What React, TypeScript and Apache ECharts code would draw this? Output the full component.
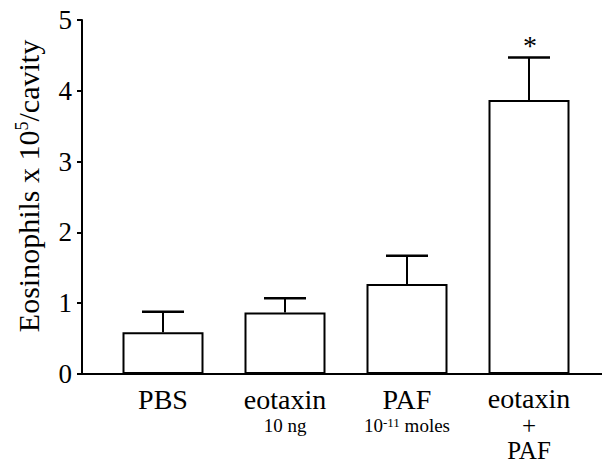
import React, { useEffect, useRef } from "react";
import * as echarts from "echarts";

const categories = ["PBS", "eotaxin", "PAF", "eotaxin + PAF"];
const means = [0.59, 0.87, 1.27, 3.87];
const errorTops = [0.88, 1.07, 1.67, 4.47];
const significance = ["", "", "", "*"];
const categoryLabels = [
  "{a|PBS}",
  "{a|eotaxin}\n{b|10 ng}",
  "{a|PAF}\n{b|10}{sup|-11}{b| moles}",
  "{d|eotaxin}\n{c|+}\n{c|PAF}",
];
const yMin = 0;
const yMax = 5;
const yInterval = 1;

const FONT = "Liberation Serif";

export default function App() {
  const ref = useRef<HTMLDivElement>(null);
  useEffect(() => {
    if (!ref.current) return;
    const chart = echarts.init(ref.current, undefined, { renderer: "svg" });
    const option: any = {
      animation: false,
      backgroundColor: "#fff",
      textStyle: { fontFamily: FONT },
      grid: {
        left: 102,
        right: 12,
        top: 20,
        bottom: 90,
        containLabel: false,
        outerBoundsMode: "none",
      },
      xAxis: {
        type: "category",
        data: categories,
        axisLine: { show: false },
        axisTick: { show: false },
        axisLabel: {
          interval: 0,
          margin: 9,
          color: "#000",
          fontFamily: FONT,
          formatter: (_v: string, i: number) => categoryLabels[i],
          rich: {
            a: { fontFamily: FONT, fontSize: 28, lineHeight: 33, color: "#000" },
            b: { fontFamily: FONT, fontSize: 19, lineHeight: 19, color: "#000" },
            sup: { fontFamily: FONT, fontSize: 13, lineHeight: 13, verticalAlign: "top", color: "#000" },
            d: { fontFamily: FONT, fontSize: 28, lineHeight: 30, color: "#000" },
            c: { fontFamily: FONT, fontSize: 25, lineHeight: 25, color: "#000" },
          },
        },
      },
      yAxis: {
        type: "value",
        min: yMin,
        max: yMax,
        interval: yInterval,
        offset: 20,
        axisLine: { show: true, lineStyle: { color: "#000", width: 2 } },
        axisTick: { show: true, inside: false, length: 5, lineStyle: { color: "#000", width: 2 } },
        splitLine: { show: false },
        axisLabel: { color: "#000", fontFamily: FONT, fontSize: 27, margin: 10 },
      },
      graphic: [
        {
          type: "line",
          z: 0,
          shape: { x1: 82, y1: 374, x2: 602, y2: 374 },
          style: { stroke: "#000", lineWidth: 2 },
        },
        {
          type: "text",
          x: 28,
          y: 186,
          rotation: Math.PI / 2,
          style: {
            text: "{a|Eosinophils x 10}{s|5}{a|/cavity}",
            align: "center",
            verticalAlign: "middle",
            fontFamily: FONT,
            rich: {
              a: { fontFamily: FONT, fontSize: 30, lineHeight: 30, fill: "#000" },
              s: { fontFamily: FONT, fontSize: 18, lineHeight: 30, verticalAlign: "top", fill: "#000" },
            },
          },
        },
      ],
      series: [
        {
          type: "bar",
          data: means,
          barWidth: 81,
          itemStyle: { color: "#fff", borderColor: "#000", borderWidth: 2 },
          z: 2,
        },
        {
          type: "custom",
          z: 3,
          data: categories.map((_c, i) => [i, means[i], errorTops[i]]),
          renderItem: (params: any, api: any) => {
            const idx = api.value(0);
            const base = api.coord([idx, api.value(1)]);
            const top = api.coord([idx, api.value(2)]);
            const capHalf = 21;
            const children: any[] = [
              {
                type: "line",
                shape: { x1: base[0], y1: base[1], x2: top[0], y2: top[1] },
                style: { stroke: "#000", lineWidth: 2 },
              },
              {
                type: "line",
                shape: { x1: top[0] - capHalf, y1: top[1], x2: top[0] + capHalf, y2: top[1] },
                style: { stroke: "#000", lineWidth: 2.5 },
              },
            ];
            const sig = significance[params.dataIndex];
            if (sig) {
              children.push({
                type: "text",
                x: top[0] + 1,
                y: top[1] - 12,
                style: {
                  text: sig,
                  fontFamily: FONT,
                  fontSize: 28,
                  fill: "#000",
                  align: "center",
                  verticalAlign: "middle",
                },
              });
            }
            return { type: "group", children };
          },
        },
      ],
    };
    chart.setOption(option);
    return () => chart.dispose();
  }, []);
  return (
    <div
      ref={ref}
      style={{ position: "absolute", left: 0, top: 0, width: 602, height: 464, background: "#fff" }}
    />
  );
}
